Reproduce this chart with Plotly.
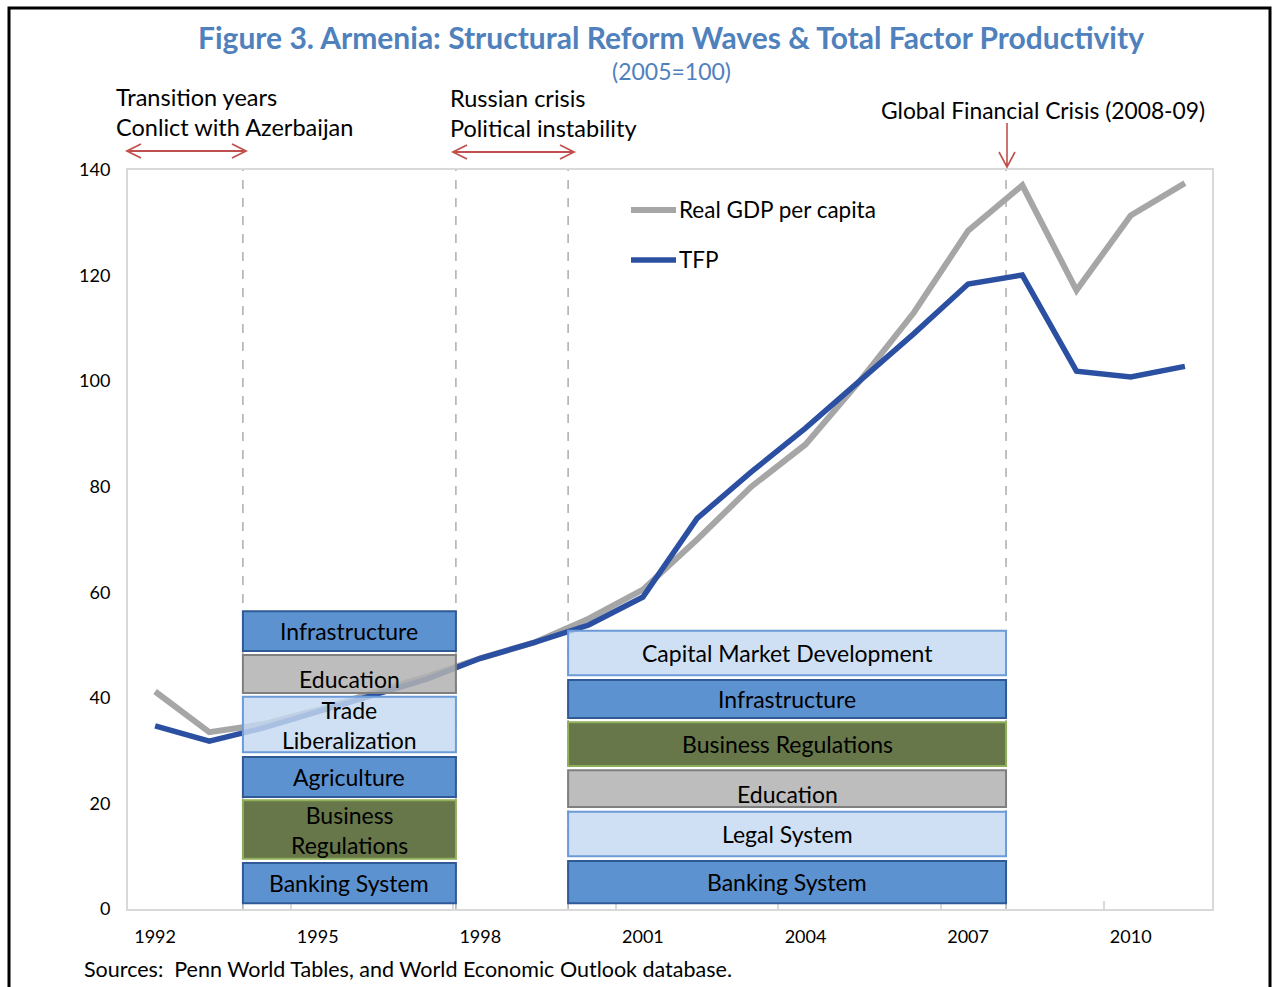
import plotly.graph_objects as go

# data (2005 = 100)
years = list(range(1992, 2012))
gdp_per_capita = [41.2, 33.5, 35.0, 37.7, 40.9, 44.0, 47.5, 50.5, 55.0, 60.5,
                  70.0, 80.0, 88.0, 100.0, 113.0, 128.5, 137.1, 117.2, 131.4, 137.5]
tfp = [34.7, 31.8, 34.3, 37.3, 40.3, 43.5, 47.5, 50.5, 53.8, 59.1,
       74.0, 82.8, 91.1, 100.0, 109.0, 118.4, 120.1, 101.9, 100.8, 102.8]
tick_years = [1992, 1995, 1998, 2001, 2004, 2007, 2010]

wave1_reforms = ["Infrastructure", "Education", "Trade<br>Liberalization",
                 "Agriculture", "Business<br>Regulations", "Banking System"]
wave2_reforms = ["Capital Market Development", "Infrastructure", "Business Regulations",
                 "Education", "Legal System", "Banking System"]

FONT = "Lato"
TITLE_BLUE = "#4f81bd"
ARROW_RED = "#c0504d"

# box styles
STYLE = {
    "blue": dict(fill="rgba(88,142,208,0.97)", line="#2f5a96"),
    "gray": dict(fill="rgba(178,178,178,0.85)", line="#7f7f7f"),
    "light": dict(fill="rgba(198,217,241,0.82)", line="#6b9bd8"),
    "olive": dict(fill="rgba(103,119,74,1)", line="#8fae5a"),
}
wave1_styles = ["blue", "gray", "light", "blue", "olive", "blue"]
wave2_styles = ["light", "blue", "olive", "gray", "light", "blue"]
# vertical extent of each box (axis units)
wave1_y = [(48.9, 56.4), (40.9, 48.1), (29.7, 40.2), (21.2, 28.8), (9.5, 20.6), (1.1, 8.7)]
wave2_y = [(44.3, 52.7), (36.2, 43.4), (27.1, 35.4), (19.3, 26.3), (10.0, 18.4), (1.1, 9.1)]
wave1_x = (1993.62, 1997.55)
wave2_x = (1999.62, 2007.7)

# plot area in pixels
L, R, T, B = 128, 1212, 170, 909


def px(x):
    return (x - L) / (R - L)


def py(y):
    return (B - y) / (B - T)


fig = go.Figure()

fig.add_trace(go.Scatter(x=years, y=gdp_per_capita, mode="lines", name="Real GDP per capita",
                         line=dict(color="#a6a6a6", width=6), showlegend=False))
fig.add_trace(go.Scatter(x=years, y=tfp, mode="lines", name="TFP",
                         line=dict(color="#2b50a2", width=5.5), showlegend=False))

shapes = []
annotations = []

# dashed period separators
for xv in [wave1_x[0], wave1_x[1], wave2_x[0], wave2_x[1]]:
    shapes.append(dict(type="line", xref="x", yref="y", x0=xv, x1=xv, y0=0, y1=140,
                       line=dict(color="#a0a0a0", width=1.3, dash="dash"), layer="below"))

# reform boxes
for labels, styles, ys, xs in [(wave1_reforms, wave1_styles, wave1_y, wave1_x),
                               (wave2_reforms, wave2_styles, wave2_y, wave2_x)]:
    for lab, st, (y0, y1) in zip(labels, styles, ys):
        s = STYLE[st]
        shapes.append(dict(type="rect", xref="x", yref="y", x0=xs[0], x1=xs[1], y0=y0, y1=y1,
                           fillcolor=s["fill"], line=dict(color=s["line"], width=2), layer="above"))
        off = -1.0 if lab == "Education" else 0
        annotations.append(dict(x=(xs[0] + xs[1]) / 2, y=(y0 + y1) / 2 + off, xref="x", yref="y",
                                text=lab, showarrow=False, font=dict(family=FONT, size=23, color="black")))

# legend drawn by hand
for ypix, col, w, name in [(210, "#a6a6a6", 6, "Real GDP per capita"),
                           (260, "#2b50a2", 5.5, "TFP")]:
    shapes.append(dict(type="line", xref="paper", yref="paper", x0=px(631), x1=px(676),
                       y0=py(ypix), y1=py(ypix), line=dict(color=col, width=w)))
    annotations.append(dict(x=px(677), y=py(ypix), xref="paper", yref="paper", text=name,
                            xanchor="left", yanchor="middle", showarrow=False,
                            font=dict(family=FONT, size=22.5, color="black")))


def double_arrow(x0, x1, y):
    h = 7
    path = (f"M {px(x0)},{py(y)} L {px(x1)},{py(y)} "
            f"M {px(x0 + 14)},{py(y - h)} L {px(x0)},{py(y)} L {px(x0 + 14)},{py(y + h)} "
            f"M {px(x1 - 14)},{py(y - h)} L {px(x1)},{py(y)} L {px(x1 - 14)},{py(y + h)}")
    return dict(type="path", xref="paper", yref="paper", path=path,
                line=dict(color=ARROW_RED, width=1.8))


shapes.append(double_arrow(127, 246, 151))
shapes.append(double_arrow(453, 574, 152))
# down arrow for the GFC
shapes.append(dict(type="path", xref="paper", yref="paper",
                   path=(f"M {px(1007)},{py(123)} L {px(1007)},{py(167)} "
                         f"M {px(999)},{py(152)} L {px(1007)},{py(167)} L {px(1015)},{py(152)}"),
                   line=dict(color=ARROW_RED, width=1.6)))

# outer frame
shapes.append(dict(type="rect", xref="paper", yref="paper", x0=px(9), x1=px(1270),
                   y0=py(1000), y1=py(8), line=dict(color="black", width=3)))


def text(x, y, s, size=22.5, color="black", anchor="left", bold=False):
    if bold:
        s = f"<b>{s}</b>"
    annotations.append(dict(x=px(x), y=py(y), xref="paper", yref="paper", text=s,
                            xanchor=anchor, yanchor="middle", showarrow=False,
                            font=dict(family=FONT, size=size, color=color)))


text(671, 37, "Figure 3. Armenia: Structural Reform Waves & Total Factor Productivity",
     size=30, color=TITLE_BLUE, anchor="center", bold=True)
text(671, 71, "(2005=100)", size=23, color=TITLE_BLUE, anchor="center")
text(114, 97, "Transition years", size=23.5)
text(114, 127, "Conlict with Azerbaijan", size=23.5)
text(448, 98, "Russian crisis", size=23.5)
text(448, 128, "Political instability", size=23.5)
text(1043, 110, "Global Financial Crisis (2008-09)", size=22.8, anchor="center")
text(82, 969, "Sources:  Penn World Tables, and World Economic Outlook database.", size=21.5)

fig.update_layout(
    width=1278, height=987,
    margin=dict(l=L, r=1278 - R, t=T, b=987 - B),
    paper_bgcolor="white", plot_bgcolor="white",
    font=dict(family=FONT, size=17, color="black"),
    shapes=shapes, annotations=annotations,
    showlegend=False,
)
fig.update_xaxes(range=[1991.5, 2011.5], tickvals=tick_years, ticks="", showgrid=False,
                 zeroline=False, showline=True, mirror=True, linecolor="#d9d9d9", linewidth=2,
                 tickfont=dict(size=18), ticklabelstandoff=10,
                 minor=dict(tickmode="array", tickvals=[1994.5, 1997.5, 2000.5, 2003.5, 2006.5, 2009.5],
                            ticks="inside", ticklen=8, tickcolor="#d9d9d9", tickwidth=1.5, showgrid=False))
fig.update_yaxes(range=[0, 140], dtick=20, ticks="", showgrid=False, zeroline=False,
                 showline=True, mirror=True, linecolor="#d9d9d9", linewidth=2,
                 tickfont=dict(size=18), ticklabelstandoff=12)

# page body has a default 8px margin; drop it so the figure sits at the window origin
fig.write_html("out.html", config={"displayModeBar": False},
               post_script="document.body.style.margin='0';")
